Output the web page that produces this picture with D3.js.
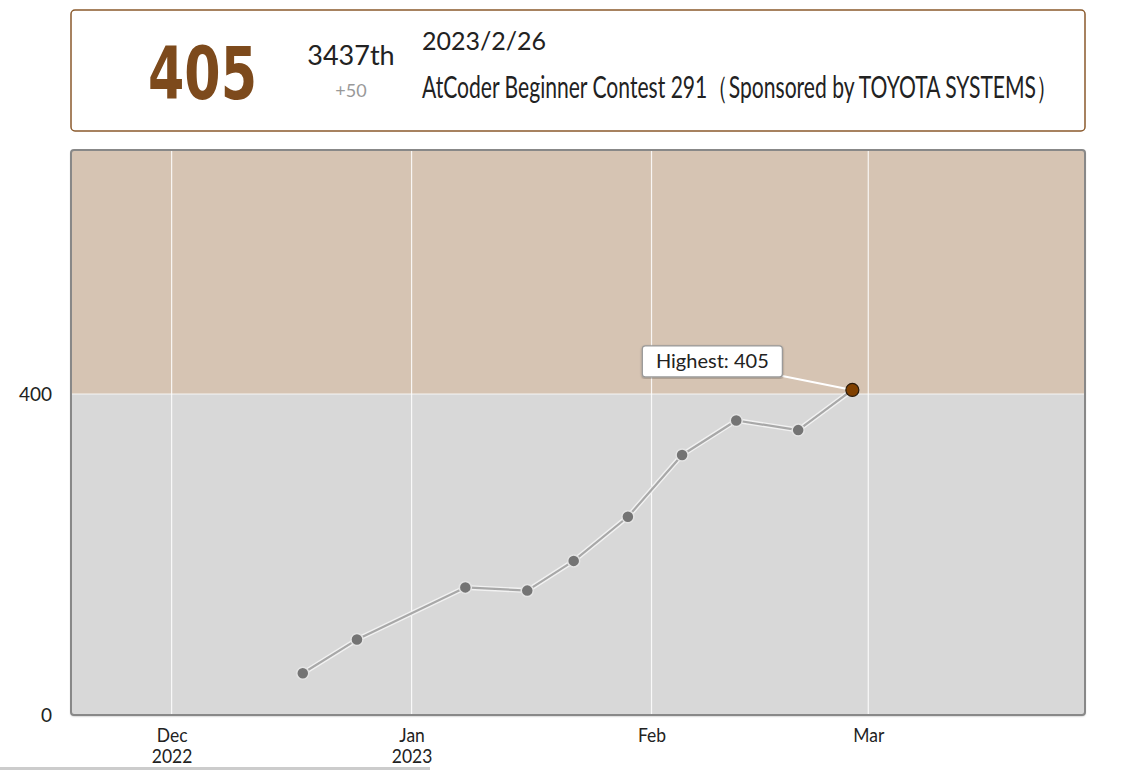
<!DOCTYPE html>
<html>
<head>
<meta charset="utf-8">
<script src="https://cdn.jsdelivr.net/npm/d3@7"></script>
<style>
  body { margin: 0; background: #fff; }
  svg { display: block; font-family: Lato, "Open Sans", sans-serif; }
</style>
</head>
<body>
<div id="chart"></div>
<script>
// rating history, one point per rated contest (end times, JST)
const contestDates = ["2022-12-17 22:40", "2022-12-24 22:40", "2023-01-07 22:40", "2023-01-15 22:40",
  "2023-01-21 22:40", "2023-01-28 22:40", "2023-02-04 22:40", "2023-02-11 22:40",
  "2023-02-19 22:40", "2023-02-26 22:40"];
const ratings = [52, 94, 159, 155, 192, 247, 324, 367, 355, 405];
const bands = [{ from: 0, to: 400, color: "#d8d8d8" }, { from: 400, to: 800, color: "#d6c4b3" }];
const yTicks = [0, 400];
const monthTicks = ["2022-12-01", "2023-01-01", "2023-02-01", "2023-03-01"];

// header card values
const latest = { rating: 405, rank: "3437th", diff: "+50", date: "2023/2/26",
  name: "AtCoder Beginner Contest 291（Sponsored by TOYOTA SYSTEMS）" };

const width = 1124, height = 770;
const margin = { top: 150, right: 39, bottom: 55, left: 71 };
const parseTime = d3.timeParse("%Y-%m-%d %H:%M");
const parseDay = d3.timeParse("%Y-%m-%d");
const data = contestDates.map((d, i) => ({ date: parseTime(d), rating: ratings[i] }));

const svg = d3.select("#chart").append("svg")
  .attr("width", width)
  .attr("height", height);

const defs = svg.append("defs");
const shadow = defs.append("filter").attr("id", "shadow")
  .attr("x", "-5%").attr("y", "-5%").attr("width", "110%").attr("height", "110%");
shadow.append("feDropShadow").attr("dx", 0).attr("dy", 1).attr("stdDeviation", 1.2)
  .attr("flood-color", "#000").attr("flood-opacity", 0.35);

// squeeze a text horizontally so it spans `w` pixels
function squeeze(sel, left, base, w) {
  const len = sel.node().getComputedTextLength();
  sel.attr("transform", `translate(${left},${base}) scale(${w / len},1)`);
}

// ---- header card ----
const card = svg.append("g");
card.append("rect")
  .attr("x", 71).attr("y", 10).attr("width", 1014).attr("height", 121)
  .attr("rx", 4)
  .attr("fill", "#fff")
  .attr("stroke", "#8a5a2c")
  .attr("stroke-width", 1.5);

const big = card.append("text")
  .style("font-family", "'Liberation Sans Narrow', 'DejaVu Sans Condensed', sans-serif")
  .style("font-weight", "bold")
  .style("font-size", "73px")
  .attr("fill", "#7d4a1c")
  .text(latest.rating);
squeeze(big, 148, 99, 109);

card.append("text")
  .attr("x", 351).attr("y", 65)
  .attr("text-anchor", "middle")
  .style("font-size", "27px")
  .attr("fill", "#222")
  .text(latest.rank);

card.append("text")
  .attr("x", 351).attr("y", 97)
  .attr("text-anchor", "middle")
  .style("font-size", "18px")
  .attr("fill", "#999")
  .text(latest.diff);

card.append("text")
  .attr("x", 422).attr("y", 50)
  .style("font-size", "25px")
  .attr("fill", "#222")
  .text(latest.date);

const title = card.append("text")
  .style("font-size", "31px")
  .attr("fill", "#222")
  .text(latest.name);
squeeze(title, 422, 98, 635);

// ---- chart ----
const x = d3.scaleTime()
  .domain([parseDay("2022-11-18"), parseDay("2023-03-29")])
  .range([margin.left, width - margin.right]);
const y = d3.scaleLinear()
  .domain([0, 704])
  .range([height - margin.bottom, margin.top]);

const plot = svg.append("g");

plot.append("rect")
  .attr("x", x.range()[0]).attr("y", y.range()[1])
  .attr("width", x.range()[1] - x.range()[0])
  .attr("height", y.range()[0] - y.range()[1])
  .attr("rx", 3)
  .attr("fill", "#d8d8d8")
  .attr("filter", "url(#shadow)");

plot.selectAll("rect.band")
  .data(bands)
  .join("rect")
  .attr("class", "band")
  .attr("x", x.range()[0])
  .attr("width", x.range()[1] - x.range()[0])
  .attr("y", d => y(Math.min(d.to, y.domain()[1])))
  .attr("height", d => y(d.from) - y(Math.min(d.to, y.domain()[1])))
  .attr("fill", d => d.color);

// month grid lines
const months = monthTicks.map(parseDay);
plot.selectAll("line.vgrid")
  .data(months)
  .join("line")
  .attr("class", "vgrid")
  .attr("x1", d => x(d)).attr("x2", d => x(d))
  .attr("y1", y.range()[1] + 1).attr("y2", y.range()[0])
  .attr("stroke", "#fff")
  .attr("stroke-opacity", 0.85)
  .attr("stroke-width", 1.2);

plot.selectAll("line.hgrid")
  .data(yTicks.filter(d => d > 0))
  .join("line")
  .attr("class", "hgrid")
  .attr("x1", x.range()[0]).attr("x2", x.range()[1])
  .attr("y1", d => y(d)).attr("y2", d => y(d))
  .attr("stroke", "#fff")
  .attr("stroke-opacity", 0.8)
  .attr("stroke-width", 1.2);

// frame
plot.append("rect")
  .attr("x", x.range()[0]).attr("y", y.range()[1])
  .attr("width", x.range()[1] - x.range()[0])
  .attr("height", y.range()[0] - y.range()[1])
  .attr("rx", 3)
  .attr("fill", "none")
  .attr("stroke", "#888")
  .attr("stroke-width", 2);

// axes
const yAxis = svg.append("g")
  .attr("transform", `translate(${x.range()[0] - 19},0)`)
  .call(d3.axisLeft(y).tickValues(yTicks).tickSize(0).tickPadding(0));
yAxis.select(".domain").remove();
yAxis.selectAll("text")
  .style("font-family", "Lato, sans-serif")
  .style("font-size", "19px")
  .attr("fill", "#222");

const monthFmt = d3.timeFormat("%b");
const yearFmt = d3.timeFormat("%Y");
const xAxis = svg.append("g")
  .attr("transform", `translate(0,${y.range()[0]})`)
  .call(d3.axisBottom(x).tickValues(months).tickSize(0).tickPadding(0).tickFormat(""));
xAxis.select(".domain").remove();
xAxis.selectAll(".tick text").remove();
xAxis.selectAll(".tick").each(function (d, i) {
  const tick = d3.select(this);
  const lines = [monthFmt(d)];
  if (i === 0 || d.getMonth() === 0) lines.push(yearFmt(d));
  lines.forEach((s, k) => {
    tick.append("text")
      .attr("transform", `translate(0,${27 + k * 21}) scale(0.92,1)`)
      .attr("text-anchor", "middle")
      .style("font-family", "Lato, sans-serif")
      .style("font-size", "19px")
      .attr("fill", "#222")
      .text(s);
  });
});

// rating line
const line = d3.line().x(d => x(d.date)).y(d => y(d.rating));
plot.append("path")
  .datum(data)
  .attr("d", line)
  .attr("fill", "none")
  .attr("stroke", "#f2f2f2")
  .attr("stroke-width", 5)
  .attr("stroke-linejoin", "round");
plot.append("path")
  .datum(data)
  .attr("d", line)
  .attr("fill", "none")
  .attr("stroke", "#a8a8a8")
  .attr("stroke-width", 2.2)
  .attr("stroke-linejoin", "round");

const best = data.reduce((a, b) => (b.rating > a.rating ? b : a));

plot.selectAll("circle.pt")
  .data(data.filter(d => d !== best))
  .join("circle")
  .attr("class", "pt")
  .attr("cx", d => x(d.date))
  .attr("cy", d => y(d.rating))
  .attr("r", 6)
  .attr("fill", "#747474")
  .attr("stroke", "#e4e4e4")
  .attr("stroke-width", 1.5);

// highest label
const bx = x(best.date), by = y(best.rating);
const label = plot.append("g");
label.append("line")
  .attr("x1", bx - 70).attr("y1", by - 14)
  .attr("x2", bx).attr("y2", by)
  .attr("stroke", "#fff")
  .attr("stroke-width", 2);
label.append("rect")
  .attr("x", bx - 210).attr("y", by - 44)
  .attr("width", 140).attr("height", 31)
  .attr("rx", 3)
  .attr("fill", "#fff")
  .attr("stroke", "#999")
  .attr("stroke-width", 1.2)
  .attr("filter", "url(#shadow)");
label.append("text")
  .attr("x", bx - 140).attr("y", by - 21.5)
  .attr("text-anchor", "middle")
  .style("font-size", "20px")
  .attr("fill", "#222")
  .text(`Highest: ${best.rating}`);

plot.append("circle")
  .attr("cx", bx).attr("cy", by)
  .attr("r", 6.5)
  .attr("fill", "#804000")
  .attr("stroke", "#2a1a0a")
  .attr("stroke-width", 1.2);

// thin scrollbar strip at the very bottom of the screenshot
svg.append("line")
  .attr("x1", 0).attr("x2", 430)
  .attr("y1", height - 1.5).attr("y2", height - 1.5)
  .attr("stroke", "#ccc")
  .attr("stroke-width", 3);
</script>
</body>
</html>
